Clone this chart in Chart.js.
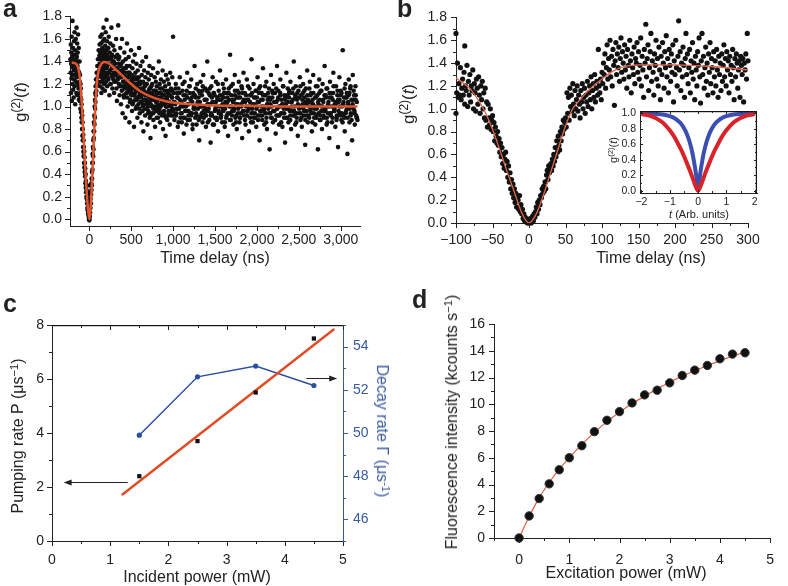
<!DOCTYPE html>
<html>
<head>
<meta charset="utf-8">
<script src="https://cdn.jsdelivr.net/npm/chart.js@4.4.1/dist/chart.umd.min.js"></script>
<style>
html, body { margin: 0; padding: 0; background: #fff; }
#fig { position: relative; width: 788px; height: 586px; overflow: hidden; font-family: "Liberation Sans", Arial, Helvetica, sans-serif; color: #222; }
canvas { position: absolute; }
.t { position: absolute; white-space: nowrap; transform: translate(-50%, -50%); font-size: 16px; line-height: 1; }
.r { transform: translate(-50%, -50%) rotate(-90deg); }
.rc { transform: translate(-50%, -50%) rotate(90deg); }
.p { position: absolute; font-weight: bold; font-size: 25px; line-height: 1; }
sup { font-size: 70%; vertical-align: 0.45em; line-height: 0; }
</style>
</head>
<body>
<div id="fig">
  <canvas id="ca" width="394" height="280" style="left:0;top:0"></canvas>
  <canvas id="cb" width="394" height="280" style="left:394px;top:0"></canvas>
  <canvas id="ci" width="165" height="125" style="left:600px;top:100px"></canvas>
  <canvas id="cc" width="394" height="306" style="left:0;top:280px"></canvas>
  <canvas id="cd" width="394" height="306" style="left:394px;top:280px"></canvas>

  <div class="p" style="left:3px;top:-4px">a</div>
  <div class="p" style="left:397px;top:-4px">b</div>
  <div class="p" style="left:3px;top:291px">c</div>
  <div class="p" style="left:412px;top:287px">d</div>

  <div class="t" style="left:215px;top:258px">Time delay (ns)</div>
  <div class="t r" style="left:20px;top:102px;font-size:17px">g<sup>(2)</sup>(<i>t</i>)</div>
  <div class="t" style="left:651px;top:258px">Time delay (ns)</div>
  <div class="t r" style="left:408px;top:104px;font-size:17px">g<sup>(2)</sup>(<i>t</i>)</div>
  <div class="t r" style="left:613px;top:150px;font-size:11px">g<sup>(2)</sup>(<i>t</i>)</div>
  <div class="t" style="left:699px;top:214px;font-size:11px"><i>t</i> (Arb. units)</div>

  <div class="t" style="left:197px;top:577px">Incident power (mW)</div>
  <div class="t r" style="left:18px;top:436px">Pumping rate P (μs<sup>−1</sup>)</div>
  <div class="t rc" style="left:382px;top:431px;color:#3a5aa0">Decay rate Γ (μs<sup>-1</sup>)</div>

  <div class="t" style="left:626px;top:573px">Excitation power (mW)</div>
  <div class="t r" style="left:452px;top:422px">Fluorescence intensity (kcounts s<sup>−1</sup>)</div>
</div>

<script>
// ---- panel a : g2 over long delay ----
const aPre = [[-225,1.42],[-222,1.30],[-220,1.55],[-218,1.12],[-216,1.38],[-214,1.48],[-212,1.25],[-210,1.62],[-208,1.05],[-206,1.35],
  [-204,1.44],[-202,1.20],[-200,1.76],[-198,1.40],[-196,1.28],[-194,1.52],[-192,1.15],[-190,1.36],[-188,1.46],[-186,1.08],
  [-184,1.32],[-182,1.58],[-180,1.24],[-178,1.40],[-176,1.66],[-174,1.18],[-172,1.34],[-170,1.50],[-168,1.02],[-166,1.42],
  [-164,1.28],[-162,1.60],[-160,1.22],[-158,1.38],[-156,1.46],[-154,1.12],[-152,1.70],[-150,1.30],[-148,1.44],[-146,1.26],
  [-144,1.56],[-142,1.10],[-140,1.36],[-138,1.48],[-136,1.20],[-134,1.64],[-132,1.32],[-130,1.40],[-128,1.16],[-126,1.52],
  [-124,1.06],[-122,1.28]];
const aFall = [[-120,1.30],[-118,1.18],[-116,1.40],[-114,1.22],[-112,1.05],[-110,1.28],[-108,1.12],[-106,0.98],[-104,1.20],[-102,1.08],
  [-100,1.16],[-98,0.95],[-96,1.06],[-94,0.90],[-92,1.02],[-90,0.86],[-88,0.96],[-86,0.80],[-84,0.92],[-82,0.74],
  [-80,0.86],[-78,0.70],[-76,0.80],[-74,0.64],[-72,0.75],[-70,0.60],[-68,0.70],[-66,0.56],[-64,0.64],[-62,0.50],
  [-60,0.60],[-58,0.46],[-56,0.55],[-54,0.42],[-52,0.50],[-50,0.38],[-48,0.45],[-46,0.32],[-44,0.40],[-42,0.28],
  [-40,0.34],[-38,0.24],[-36,0.30],[-34,0.20],[-32,0.26]];
const aDip = [[-30,0.18],[-28,0.24],[-26,0.14],[-24,0.20],[-22,0.10],[-20,0.30],[-18,0.08],[-16,0.16],[-14,0.05],[-12,0.22],
  [-10,0.04],[-8,0.12],[-6,0.02],[-4,0.06],[-2,0.00],[0,-0.01],[2,0.03],[4,0.10],[6,0.02],[8,0.14],
  [10,0.06],[12,0.24],[14,0.10],[16,0.18],[18,0.30],[20,0.14],[22,0.22],[24,0.32],[26,0.26],[28,0.36]];
const aRise = [[30,0.30],[32,0.42],[34,0.36],[36,0.50],[38,0.44],[40,0.58],[42,0.50],[44,0.64],[46,0.56],[48,0.70],
  [50,0.62],[52,0.78],[54,0.72],[56,0.86],[58,0.78],[60,0.92],[62,0.84],[64,1.00],[66,0.90],[68,1.06],
  [70,0.98],[72,1.12],[74,1.04],[76,1.18],[78,1.10],[80,1.24],[84,1.14],[88,1.30],[92,1.20],[96,1.36],
  [100,1.26],[104,1.42],[108,1.22],[112,1.50],[116,1.32]];
const aPeak = [[120,1.45],[122,1.28],[124,1.55],[126,1.36],[128,1.18],[130,1.48],[132,1.62],[134,1.30],[136,1.42],[138,1.22],
  [140,1.56],[142,1.38],[144,1.12],[146,1.50],[148,1.34],[150,1.64],[152,1.26],[154,1.44],[156,1.52],[158,1.16],
  [160,1.40],[162,1.58],[164,1.32],[166,1.46],[168,1.24],[170,1.70],[172,1.36],[174,1.50],[176,1.20],[178,1.42],
  [180,1.60],[182,1.30],[184,1.48],[186,1.14],[188,1.38],[190,1.54],[192,1.26],[194,1.44],[196,1.66],[198,1.34],
  [200,1.22],[202,1.50],[204,1.40],[206,1.77],[208,1.28],[210,1.46],[212,1.58],[214,1.18],[216,1.36],[218,1.52],
  [220,1.30],[224,1.44],[228,1.24],[232,1.62],[236,1.38],[240,1.10],[244,1.48],[248,1.32],[252,1.56],[256,1.20],
  [260,1.42],[264,1.70],[268,1.28],[272,1.46],[276,1.16],[280,1.36],[284,1.54],[288,1.24],[292,1.40],[296,1.12],
  [300,1.50],[305,1.30],[310,1.44],[315,1.22],[320,1.60],[325,1.34],[330,1.05],[335,1.46],[340,1.26],[345,1.72],[350,1.38]];
const aDecay = [[354,1.20],[358,1.44],[362,1.10],[366,1.32],[370,1.52],[374,1.26],[378,1.02],[382,1.38],[386,1.18],[390,1.60],
  [394,1.28],[398,0.94],[402,1.40],[406,1.22],[410,1.34],[414,1.08],[418,1.48],[422,1.16],[426,1.30],[430,0.90],
  [434,1.42],[438,1.24],[442,1.12],[446,1.36],[450,1.56],[454,1.20],[458,1.00],[462,1.30],[466,1.14],[470,1.44],
  [474,1.26],[478,0.86],[482,1.36],[486,1.18],[490,1.06],[494,1.28],[498,1.50],[502,1.10],[506,1.22],[510,0.96],
  [514,1.34],[518,1.16],[522,1.40],[526,1.04],[530,1.26],[534,0.82],[538,1.20],[542,1.46],[546,1.12],[550,1.30],
  [554,0.98],[558,1.18],[562,1.38],[566,1.08],[570,1.24],[574,0.90],[578,1.32],[582,1.14],[586,1.02],[590,1.26],
  [594,1.52],[598,1.10],[602,0.94],[606,1.20],[610,1.36],[614,1.04],[618,1.16],[622,0.86],[626,1.28],[630,1.12],
  [634,1.40],[638,1.00],[642,1.22],[646,0.78],[650,1.14],[654,1.32],[658,1.06],[662,1.18],[666,0.92],[670,1.26],
  [674,1.10],[678,1.44],[682,0.98],[686,1.20],[690,1.04],[694,0.84],[698,1.30],[702,1.12],[706,0.96],[710,1.24],
  [714,1.08],[718,1.36],[722,0.90],[726,1.16],[730,0.72],[734,1.02],[738,1.28],[742,1.10],[746,0.94],[750,1.20],
  [755,1.06],[760,1.34],[765,0.88],[770,1.14],[775,1.00],[780,1.26],[785,0.82],[790,1.10],[795,1.22],[800,0.96],
  [805,1.18],[810,1.04],[815,1.30],[820,0.90],[825,1.12],[830,1.40],[835,0.98],[840,1.20],[845,0.86],[850,1.08],
  [855,1.24],[860,0.94],[865,1.16],[870,1.02],[875,1.32],[880,0.80],[885,1.10],[890,1.22],[895,0.92],[900,1.06],
  [905,1.18],[910,0.74],[915,1.28],[920,1.00],[925,1.14],[930,0.88],[935,1.24],[940,1.04],[945,0.96],[950,1.20],
  [955,1.10],[960,0.84],[965,1.30],[970,1.02],[975,1.16],[980,0.92],[985,1.08],[990,1.26],[995,0.98],[1000,1.62]];
const aTail = [[1008,1.12],[1016,0.88],[1024,1.02],[1032,1.20],[1040,0.94],[1048,1.08],[1056,0.82],[1064,1.16],[1072,0.98],[1080,1.26],
  [1088,0.90],[1096,1.04],[1104,0.86],[1112,1.14],[1120,1.00],[1128,0.76],[1136,1.22],[1144,0.96],[1152,1.10],[1160,0.84],
  [1168,1.30],[1176,1.02],[1184,0.92],[1192,1.18],[1200,0.88],[1208,1.06],[1216,1.24],[1224,0.94],[1232,0.80],[1240,1.12],
  [1248,1.00],[1256,1.36],[1264,0.90],[1272,1.08],[1280,0.84],[1288,1.20],[1296,0.98],[1304,1.14],[1312,0.70],[1320,1.04],
  [1328,1.22],[1336,0.92],[1344,1.10],[1352,0.86],[1360,1.28],[1368,1.00],[1376,0.94],[1384,1.16],[1392,0.82],[1400,1.06],
  [1408,1.40],[1416,0.96],[1424,1.12],[1432,0.88],[1440,1.02],[1448,0.68],[1456,1.18],[1464,0.92],[1472,1.26],[1480,1.04],
  [1488,0.84],[1496,1.10],[1504,0.98],[1512,1.22],[1520,0.90],[1528,1.08],[1536,0.78],[1544,1.14],[1552,1.00],[1560,1.32],
  [1568,0.94],[1576,1.06],[1584,0.86],[1592,1.20],[1600,0.96],[1608,1.12],[1616,0.82],[1624,1.04],[1632,1.24],[1640,0.92],
  [1648,1.08],[1656,0.74],[1664,1.16],[1672,1.00],[1680,1.46],[1688,0.88],[1696,1.10],[1704,0.96],[1712,1.20],[1720,0.84],
  [1728,1.06],[1736,1.28],[1744,0.90],[1752,1.02],[1760,0.80],[1768,1.14],[1776,0.98],[1784,1.22],[1792,0.86],[1800,1.08],
  [1808,0.94],[1816,1.18],[1824,0.72],[1832,1.04],[1840,1.30],[1848,0.92],[1856,1.12],[1864,0.84],[1872,1.00],[1880,1.24],
  [1888,0.96],[1896,1.06],[1904,0.78],[1912,1.16],[1920,0.90],[1928,1.10],[1936,1.42],[1944,0.98],[1952,0.86],[1960,1.20],
  [1968,1.02],[1976,0.94],[1984,1.14],[1992,0.82],[2000,1.08],[2008,1.26],[2016,0.92],[2024,1.04],[2032,0.70],[2040,1.18],
  [2048,0.96],[2056,1.12],[2064,0.88],[2072,1.34],[2080,1.00],[2088,0.84],[2096,1.10],[2104,0.94],[2112,1.22],[2120,0.80],
  [2128,1.06],[2136,0.98],[2144,1.16],[2152,0.62],[2160,1.02],[2168,1.28],[2176,0.90],[2184,1.08],[2192,0.86],[2200,1.20],
  [2208,0.96],[2216,1.12],[2224,0.76],[2232,1.04],[2240,1.36],[2248,0.92],[2256,1.14],[2264,0.84],[2272,1.00],[2280,1.24],
  [2288,0.94],[2296,1.06],[2304,0.82],[2312,1.18],[2320,0.98],[2328,1.10],[2336,0.68],[2344,1.02],[2352,1.30],[2360,0.90],
  [2368,1.16],[2376,0.86],[2384,1.08],[2392,0.96],[2400,1.22],[2408,0.80],[2416,1.04],[2424,1.12],[2432,0.92],[2440,1.40],
  [2448,1.00],[2456,0.84],[2464,1.18],[2472,0.94],[2480,1.06],[2488,0.74],[2496,1.14],[2504,0.98],[2512,1.26],[2520,0.88],
  [2528,1.10],[2536,0.82],[2544,1.02],[2552,1.20],[2560,0.92],[2568,1.08],[2576,0.66],[2584,1.16],[2592,0.96],[2600,1.32],
  [2608,0.86],[2616,1.04],[2624,0.90],[2632,1.22],[2640,0.98],[2648,1.12],[2656,0.78],[2664,1.06],[2672,1.28],[2680,0.94],
  [2688,1.00],[2696,0.84],[2704,1.18],[2712,0.92],[2720,1.10],[2728,0.62],[2736,1.02],[2744,1.24],[2752,0.88],[2760,1.14],
  [2768,0.96],[2776,0.80],[2784,1.20],[2792,1.04],[2800,0.90],[2808,1.36],[2816,0.98],[2824,1.08],[2832,0.84],[2840,1.16],
  [2848,0.94],[2856,1.00],[2864,0.72],[2872,1.22],[2880,0.92],[2888,1.12],[2896,0.86],[2904,1.06],[2912,1.30],[2920,0.96],
  [2928,1.02],[2936,0.82],[2944,1.18],[2952,0.90],[2960,1.10],[2968,0.64],[2976,1.04],[2984,1.26],[2992,0.94],[3000,1.14],
  [3008,0.88],[3016,1.00],[3024,1.50],[3032,0.92],[3040,1.08],[3048,0.78],[3056,1.20],[3064,0.96],[3072,1.12],[3080,0.58],
  [3088,1.02],[3096,1.24],[3104,0.86],[3112,1.16],[3120,0.94],[3128,1.06],[3136,0.70],[3144,1.28],[3152,0.98],[3160,1.10],
  [3168,0.84],[3176,1.18],[3184,0.92],[3192,1.04],[3200,0.88]];
const aTail2 = [[1006,1.04],[1018,0.92],[1030,1.16],[1042,0.98],[1054,1.08],[1066,0.86],[1078,1.12],[1090,1.00],[1102,0.94],[1114,1.20],[1126,0.90],[1138,1.06],
  [1150,0.96],[1162,1.14],[1174,0.88],[1186,1.02],[1198,1.18],[1210,0.94],[1222,1.08],[1234,0.84],[1246,1.10],[1258,0.98],[1270,1.16],[1282,0.92],
  [1294,1.04],[1306,0.88],[1318,1.12],[1330,1.00],[1342,0.94],[1354,1.18],[1366,0.90],[1378,1.06],[1390,0.98],[1402,1.14],[1414,0.86],[1426,1.02],
  [1438,1.16],[1450,0.92],[1462,1.08],[1474,0.84],[1486,1.12],[1498,0.96],[1510,1.04],[1522,0.88],[1534,1.20],[1546,0.94],[1558,1.06],[1570,0.90],
  [1582,1.10],[1594,0.98],[1606,1.16],[1618,0.86],[1630,1.02],[1642,1.12],[1654,0.94],[1666,1.06],[1678,0.88],[1690,1.18],[1702,0.92],[1714,1.04],
  [1726,0.98],[1738,1.14],[1750,0.86],[1762,1.08],[1774,0.94],[1786,1.12],[1798,0.90],[1810,1.02],[1822,1.16],[1834,0.96],[1846,1.06],[1858,0.88],
  [1870,1.10],[1882,0.92],[1894,1.18],[1906,0.98],[1918,1.04],[1930,0.86],[1942,1.12],[1954,0.94],[1966,1.08],[1978,0.90],[1990,1.14],[2002,1.00],
  [2014,0.88],[2026,1.16],[2038,0.96],[2050,1.06],[2062,0.92],[2074,1.10],[2086,0.98],[2098,1.18],[2110,0.86],[2122,1.02],[2134,1.12],[2146,0.94],
  [2158,1.06],[2170,0.90],[2182,1.14],[2194,0.96],[2206,1.04],[2218,0.88],[2230,1.16],[2242,0.98],[2254,1.08],[2266,0.92],[2278,1.12],[2290,0.86],
  [2302,1.02],[2314,1.18],[2326,0.94],[2338,1.06],[2350,0.90],[2362,1.10],[2374,0.98],[2386,1.14],[2398,0.88],[2410,1.04],[2422,0.96],[2434,1.16],
  [2446,0.92],[2458,1.08],[2470,0.86],[2482,1.12],[2494,1.00],[2506,0.94],[2518,1.18],[2530,0.90],[2542,1.06],[2554,0.98],[2566,1.14],[2578,0.88],
  [2590,1.02],[2602,1.10],[2614,0.92],[2626,1.16],[2638,0.96],[2650,1.04],[2662,0.86],[2674,1.12],[2686,0.98],[2698,1.08],[2710,0.90],[2722,1.18],
  [2734,0.94],[2746,1.06],[2758,0.88],[2770,1.14],[2782,1.00],[2794,0.92],[2806,1.10],[2818,0.96],[2830,1.16],[2842,0.86],[2854,1.04],[2866,1.12],
  [2878,0.94],[2890,1.08],[2902,0.90],[2914,1.18],[2926,0.98],[2938,1.02],[2950,0.88],[2962,1.14],[2974,0.96],[2986,1.06],[2998,0.92],[3010,1.12],
  [3022,0.86],[3034,1.04],[3046,1.16],[3058,0.94],[3070,1.08],[3082,0.90],[3094,1.10],[3106,0.98],[3118,1.18],[3130,0.88],[3142,1.02],[3154,1.14],
  [3166,0.94],[3178,1.06],[3190,0.90]];
const aCore = [[404,1.30],[419,1.18],[434,1.26],[449,1.12],[464,1.22],[479,1.30],[494,1.14],[509,1.24],[524,1.10],[539,1.18],
  [554,1.26],[569,1.06],[584,1.16],[599,1.22],[614,1.08],[629,1.14],[644,1.02],[659,1.20],[674,1.06],[689,1.12],
  [704,1.00],[719,1.16],[734,1.06],[749,1.12],[764,0.98],[779,1.08],[794,1.14],[809,1.00],[824,1.06],[839,0.96],
  [854,1.12],[869,1.04],[884,0.94],[899,1.10],[914,1.00],[929,1.06],[944,0.92],[959,1.14],[974,1.00],[989,1.08],
  [1004,0.96],[1019,1.04],[1034,0.92],[1049,1.12],[1064,0.98],[1079,1.06],[1094,0.94],[1109,1.02],[1124,1.10],[1139,0.90],
  [1154,1.00],[1169,1.08],[1184,0.96],[1199,1.12],[1214,0.92],[1229,1.04],[1244,0.98],[1259,1.10],[1274,0.94],[1289,1.02],
  [1304,1.08],[1319,0.90],[1334,1.00],[1349,1.14],[1364,0.96],[1379,1.06],[1394,0.92],[1409,1.02],[1424,0.98],[1439,1.10],
  [1454,0.94],[1469,1.04],[1484,1.12],[1499,0.90],[1514,1.00],[1529,1.06],[1544,0.96],[1559,1.10],[1574,0.92],[1589,1.02],
  [1604,1.08],[1619,0.98],[1634,0.90],[1649,1.04],[1664,1.12],[1679,0.94],[1694,1.00],[1709,1.06],[1724,0.96],[1739,1.10],
  [1754,0.92],[1769,1.02],[1784,1.08],[1799,0.90],[1814,1.00],[1829,1.12],[1844,0.96],[1859,1.04],[1874,0.92],[1889,1.06],
  [1904,1.00],[1919,1.10],[1934,0.94],[1949,1.02],[1964,0.90],[1979,1.08],[1994,0.98],[2009,1.04],[2024,1.12],[2039,0.92],
  [2054,1.00],[2069,1.06],[2084,0.96],[2099,1.10],[2114,0.90],[2129,1.02],[2144,1.08],[2159,0.94],[2174,1.00],[2189,1.12],
  [2204,0.96],[2219,1.04],[2234,0.92],[2249,1.06],[2264,1.00],[2279,1.10],[2294,0.94],[2309,1.02],[2324,0.90],[2339,1.08],
  [2354,0.98],[2369,1.04],[2384,1.12],[2399,0.92],[2414,1.00],[2429,1.06],[2444,0.96],[2459,1.10],[2474,0.90],[2489,1.02],
  [2504,1.08],[2519,0.94],[2534,1.00],[2549,1.12],[2564,0.96],[2579,1.04],[2594,0.92],[2609,1.06],[2624,1.00],[2639,1.10],
  [2654,0.94],[2669,1.02],[2684,0.90],[2699,1.08],[2714,0.98],[2729,1.04],[2744,1.12],[2759,0.92],[2774,1.00],[2789,1.06],
  [2804,0.96],[2819,1.10],[2834,0.90],[2849,1.02],[2864,1.08],[2879,0.94],[2894,1.00],[2909,1.12],[2924,0.96],[2939,1.04],
  [2954,0.92],[2969,1.06],[2984,1.00],[2999,1.10],[3014,0.94],[3029,1.02],[3044,0.90],[3059,1.08],[3074,0.98],[3089,1.04],
  [3104,1.12],[3119,0.92],[3134,1.00],[3149,1.06],[3164,0.96],[3179,1.10],[3194,0.90]];
const aCoreNear = [[124,1.38],[132,1.30],[140,1.44],[148,1.26],[156,1.36],[164,1.50],[172,1.28],[180,1.40],[188,1.22],[196,1.46],
  [204,1.34],[212,1.42],[220,1.26],[228,1.52],[236,1.30],[244,1.38],[252,1.20],[260,1.44],[268,1.34],[276,1.26],
  [284,1.40],[292,1.30],[300,1.22],[308,1.38],[316,1.28],[324,1.16],[332,1.34],[340,1.24],[348,1.42],[356,1.30],
  [364,1.18],[372,1.36],[380,1.26],[388,1.14],[396,1.32],[404,1.22],[412,1.10],[420,1.28],[428,1.18],[436,1.34],
  [444,1.20],[452,1.08],[460,1.26],[468,1.16],[476,1.30],[484,1.04],[492,1.20],[500,1.12],[508,1.28],[516,1.02],
  [524,1.18],[532,1.10],[540,1.24],[548,1.06],[556,1.14],[564,1.00],[572,1.20],[580,1.08],[588,1.16],[596,0.98],
  [604,1.12],[612,1.22],[620,1.04],[628,1.10],[636,0.96],[644,1.16],[652,1.06],[660,1.12],[668,0.98],[676,1.20],
  [684,1.02],[692,1.10],[700,0.94],[708,1.14],[716,1.04],[724,1.08],[732,0.92],[740,1.18],[748,1.00],[756,1.10],
  [764,0.94],[772,1.06],[780,1.14],[788,0.98],[796,1.04],[804,0.90],[812,1.12],[820,1.02],[828,1.08],[836,0.94],
  [844,1.16],[852,1.00],[860,1.06],[868,0.92],[876,1.10],[884,1.02],[892,0.96],[900,1.14],[908,1.04],[916,0.90],
  [924,1.08],[932,1.00],[940,1.12],[948,0.94],[956,1.04],[964,1.10],[972,0.96],[980,1.02],[988,1.14],[996,0.92]];
const aFitT = [-210,-170,-140,-120,-100,-80,-60,-40,-20,0,20,40,60,80,100,130,180,220,300,400,500,600,700,800,900,1000,1200,1500,2000,2500,3200];
const aFitG = [1.39,1.385,1.36,1.3,1.15,0.9,0.62,0.35,0.13,0.0,0.15,0.45,0.8,1.1,1.27,1.36,1.395,1.39,1.34,1.27,1.2,1.14,1.1,1.07,1.05,1.035,1.02,1.01,1.005,1.0,1.0];
const aXTicks = [0,500,1000,1500,2000,2500,3000];
const aXLabels = ['0','500','1,000','1,500','2,000','2,500','3,000'];
const aXMinor = [250,750,1250,1750,2250,2750];
const gTicks = [0,0.2,0.4,0.6,0.8,1.0,1.2,1.4,1.6,1.8];
const gLabels = ['0.0','0.2','0.4','0.6','0.8','1.0','1.2','1.4','1.6','1.8'];
const gMinor = [0.1,0.3,0.5,0.7,0.9,1.1,1.3,1.5,1.7];

// ---- panel b : zoom around zero delay ----
const bScatter = [[-100,1.66],[-100,0.96],[-99,1.14],[-98,1.40],[-97,1.10],[-96,1.22],[-95,1.12],[-94,1.36],[-93,1.08],[-92,1.18],
  [-91,1.26],[-90,1.12],[-89,1.32],[-88,1.55],[-88,1.04],[-87,1.20],[-86,1.16],[-85,1.38],[-84,1.02],[-83,1.24],
  [-82,1.12],[-81,1.30],[-80,1.06],[-79,1.20],[-78,1.16],[-77,1.34],[-76,1.00],[-75,1.22],[-74,1.14],[-73,0.98],
  [-72,1.26],[-71,1.18],[-70,1.04],[-69,1.28],[-68,1.12],[-67,0.96],[-66,1.20],[-65,1.08],[-64,1.24],[-63,1.00],
  [-62,1.14],[-61,0.92],[-60,1.18],[-59,0.90],[-58,1.06],[-57,0.84],[-56,1.04],[-55,0.92],[-54,0.86],[-53,1.00],
  [-52,0.82],[-51,0.90],[-50,0.94],[-49,0.80],[-48,0.88],[-47,0.72],[-46,0.84],[-45,0.76],[-44,0.70],[-43,0.80],
  [-42,0.68],[-41,0.74],[-40,0.62],[-39,0.70],[-38,0.58],[-37,0.66],[-36,0.52],[-35,0.60],[-34,0.48],[-33,0.56],
  [-32,0.62],[-31,0.46],[-30,0.54],[-29,0.40],[-28,0.50],[-27,0.36],[-26,0.44],[-25,0.30],[-24,0.38],[-23,0.26],
  [-22,0.34],[-21,0.22],[-20,0.30],[-19,0.18],[-18,0.26],[-17,0.14],[-16,0.22],[-15,0.20],[-14,0.12],[-13,0.24],
  [-12,0.10],[-11,0.16],[-10,0.08],[-9,0.12],[-8,0.04],[-7,0.08],[-6,0.02],[-5,0.05],[-4,0.01],[-3,0.03],
  [-2,0.00],[-1,0.02],[0,0.00],[1,0.01],[2,0.04],[3,0.00],[4,0.03],[5,0.06],[6,0.02],[7,0.08],
  [8,0.05],[9,0.10],[10,0.14],[11,0.08],[12,0.18],[13,0.12],[14,0.20],[15,0.16],[16,0.24],[17,0.22],
  [18,0.30],[19,0.26],[20,0.32],[21,0.28],[22,0.36],[23,0.30],[24,0.42],[25,0.46],[26,0.38],[27,0.50],
  [28,0.44],[29,0.48],[30,0.52],[31,0.46],[32,0.56],[33,0.50],[34,0.60],[35,0.54],[36,0.66],[37,0.58],
  [38,0.72],[39,0.62],[40,0.76],[41,0.68],[42,0.64],[43,0.80],[44,0.72],[45,0.84],[46,0.78],[47,0.90],
  [48,0.82],[49,0.88],[50,0.92],[51,0.84],[52,1.14],[53,0.96],[54,1.10],[55,0.90],[56,1.18],[57,1.02],
  [58,1.12],[59,0.98],[60,1.22],[61,1.04],[62,0.94],[63,1.16],[64,1.00],[65,1.08],[66,1.20],[67,0.98],
  [68,1.12],[69,1.04],[70,0.92],[71,1.16],[72,1.06],[73,1.22],[74,1.00],[75,1.10],[76,1.18],[77,0.96],
  [78,1.12],[79,1.06],[80,1.24],[81,1.02],[82,1.14],[83,1.20],[84,1.08],[85,1.28],[86,1.00],[87,1.16],
  [88,1.22],[89,1.10],[90,1.30],[91,1.06],[92,1.18],[93,1.24],[94,1.12],[95,1.52],[96,1.20],[97,1.14],
  [98,1.26],[99,1.08],[100,1.32],[101,1.22],[102,1.40],[103,1.30],[104,1.48],[105,1.18],[106,1.36],[107,1.56],
  [108,1.26],[109,1.44],[110,1.34],[111,1.60],[112,1.28],[113,1.46],[114,1.20],[115,1.52],[116,1.38],[117,1.03],
  [118,1.42],[119,1.58],[120,1.30],[121,1.48],[122,1.36],[123,1.54],[124,1.24],[125,1.44],[126,1.62],[127,1.32],
  [128,1.50],[129,1.40],[130,1.26],[131,1.56],[132,1.34],[133,1.46],[134,1.18],[135,1.52],[136,1.38],[137,1.28],
  [138,1.60],[139,1.42],[140,1.14],[141,1.48],[142,1.36],[143,1.30],[144,1.54],[145,1.22],[146,1.44],[147,1.40],
  [148,1.58],[149,1.32],[150,1.50],[151,1.26],[152,1.38],[153,1.62],[154,1.20],[155,1.46],[156,1.34],[157,1.10],
  [158,1.52],[159,1.40],[160,1.74],[161,1.28],[162,1.44],[163,1.56],[164,1.16],[165,1.36],[166,1.50],[167,1.66],
  [168,1.24],[169,1.42],[170,1.32],[171,1.12],[172,1.48],[173,1.38],[174,1.60],[175,1.26],[176,1.44],[177,1.20],
  [178,1.54],[179,1.34],[180,1.08],[181,1.46],[182,1.30],[183,1.58],[184,1.40],[185,1.18],[186,1.50],[187,1.36],
  [188,1.64],[189,1.28],[190,1.44],[191,1.14],[192,1.52],[193,1.38],[194,1.24],[195,1.48],[196,1.32],[197,1.56],
  [198,1.06],[199,1.42],[200,1.30],[201,1.60],[202,1.36],[203,1.20],[204,1.46],[205,1.77],[206,1.34],[207,1.50],
  [208,1.16],[209,1.40],[210,1.28],[211,1.54],[212,1.38],[213,1.10],[214,1.44],[215,1.66],[216,1.30],[217,1.48],
  [218,1.22],[219,1.36],[220,1.52],[221,1.14],[222,1.42],[223,1.32],[224,1.58],[225,1.26],[226,1.40],[227,1.08],
  [228,1.46],[229,1.34],[230,1.20],[231,1.50],[232,1.38],[233,1.62],[234,1.28],[235,1.05],[236,1.42],[237,1.66],
  [238,1.30],[239,1.46],[240,1.18],[241,1.36],[242,1.54],[243,1.24],[244,1.40],[245,1.12],[246,1.48],[247,1.32],
  [248,1.58],[249,1.22],[250,1.44],[251,1.36],[252,1.14],[253,1.50],[254,1.28],[255,1.42],[256,1.20],[257,1.52],
  [258,1.34],[259,1.10],[260,1.46],[261,1.30],[262,1.40],[263,1.16],[264,1.48],[265,1.24],[266,1.38],[267,1.56],
  [268,1.28],[269,1.44],[270,1.20],[271,1.50],[272,1.34],[273,1.42],[274,1.14],[275,1.46],[276,1.30],[277,1.38],
  [278,1.24],[279,1.52],[280,1.36],[281,1.08],[282,1.44],[283,1.28],[284,1.48],[285,1.40],[286,1.18],[287,1.34],
  [288,1.42],[289,1.10],[290,1.46],[291,1.38],[292,1.30],[293,1.44],[294,1.06],[295,1.40],[296,1.34],[297,1.48],
  [298,1.26],[299,1.66],[300,1.42]];
const bFitT = [-100,-80,-70,-60,-50,-40,-30,-20,-10,0,10,20,30,40,50,60,70,80,90,100,115,130,150,200,250,300];
const bFitG = [1.27,1.17,1.08,0.97,0.82,0.64,0.45,0.27,0.09,0.0,0.08,0.25,0.45,0.65,0.85,1.0,1.08,1.15,1.21,1.26,1.33,1.37,1.385,1.385,1.37,1.34];
const bXTicks = [-100,-50,0,50,100,150,200,250,300];
const bXLabels = ['\u2212100','\u221250','0','50','100','150','200','250','300'];
const bXMinor = [-75,-25,25,75,125,175,225,275];

// ---- inset of b ----
const insetT = [-2,-1.75,-1.5,-1.25,-1,-0.9,-0.8,-0.7,-0.6,-0.5,-0.4,-0.3,-0.2,-0.15,-0.1,-0.05,0,0.05,0.1,0.15,0.2,0.3,0.4,0.5,0.6,0.7,0.8,0.9,1,1.25,1.5,1.75,2];
const insetBlue = [1.0,0.997,0.993,0.984,0.964,0.95,0.93,0.90,0.865,0.81,0.736,0.632,0.487,0.39,0.28,0.15,0,0.15,0.28,0.39,0.487,0.632,0.736,0.81,0.865,0.90,0.93,0.95,0.964,0.984,0.993,0.997,1.0];
const insetRed = [0.99,0.975,0.94,0.88,0.78,0.73,0.67,0.6,0.53,0.45,0.36,0.27,0.17,0.12,0.07,0.025,0,0.025,0.07,0.12,0.17,0.27,0.36,0.45,0.53,0.6,0.67,0.73,0.78,0.88,0.94,0.975,0.99];
const iXTicks = [-2,-1,0,1,2];
const iXLabels = ['\u22122','\u22121','0','1','2'];
const iXMinor = [-1.5,-0.5,0.5,1.5];
const iYTicks = [0,0.2,0.4,0.6,0.8,1.0];
const iYLabels = ['0.0','0.2','0.4','0.6','0.8','1.0'];
const iYMinor = [0.1,0.3,0.5,0.7,0.9];

// ---- panel c ----
const cPower = [1.5,2.5,3.5,4.5];
const cPump = [2.4,3.7,5.5,7.5];
const cDecay = [49.9,52.6,53.1,52.2];
const cFitPower = [1.2,4.85];
const cFitPump = [1.7,7.85];
const cXTicks = [0,1,2,3,4,5];
const cXMinor = [0.5,1.5,2.5,3.5,4.5];
const cYTicks = [0,2,4,6,8];
const cYMinor = [1,3,5,7];
const cY2Ticks = [46,48,50,52,54];
const cY2Minor = [45,47,49,51,53,55];

// ---- panel d ----
const dPower = [0,0.2,0.4,0.6,0.8,1.0,1.25,1.5,1.75,2.0,2.25,2.5,2.75,3.0,3.25,3.5,3.75,4.0,4.25,4.5];
const dIntensity = [0,1.65,2.95,4.05,5.1,6.0,6.9,7.95,8.8,9.45,10.1,10.7,11.05,11.6,12.15,12.55,12.9,13.4,13.75,13.85];
const dFitIntensity = [0,1.6,3.0,4.15,5.15,6.0,7.0,7.9,8.7,9.4,10.05,10.6,11.15,11.65,12.1,12.5,12.9,13.25,13.6,13.9];
const dXTicks = [0,1,2,3,4,5];
const dXMinor = [-0.5,0.5,1.5,2.5,3.5,4.5];
const dYTicks = [0,2,4,6,8,10,12,14,16];
const dYMinor = [1,3,5,7,9,11,13,15];

const INK = '#222';
const BLUE = '#3a5aa0';

Chart.defaults.font.family = '"Liberation Sans", Arial, Helvetica, sans-serif';
Chart.defaults.color = INK;
Chart.defaults.animation = false;
Chart.defaults.plugins.legend.display = false;
Chart.defaults.plugins.tooltip.enabled = false;

function pairs(list) { return list.map(p => ({ x: p[0], y: p[1] })); }
function zip(xs, ys) { return xs.map((x, i) => ({ x: x, y: ys[i] })); }
function nums(ticks) { return ticks.map(String); }

// fixed-size linear axis, ticks/labels from the arrays above
// o.frameAt: tick value whose grid line closes the box (drawn across the plot)
function axis(min, max, ticks, labels, o) {
  return {
    type: 'linear', position: o.position, min: min, max: max,
    afterBuildTicks: s => { s.ticks = ticks.map(v => ({ value: v })); },
    afterFit: s => { if (s.isHorizontal()) s.height = o.size; else s.width = o.size; },
    grid: {
      drawOnChartArea: o.frameAt !== undefined, drawTicks: false, lineWidth: 1,
      color: c => (o.frameAt !== undefined && c.tick && c.tick.value === o.frameAt) ? '#111' : 'rgba(0,0,0,0)'
    },
    border: { color: o.color || INK, width: 1 },
    ticks: { padding: o.pad, color: o.color || INK, font: { size: o.font || 14 },
             autoSkip: false, maxRotation: 0, callback: (v, i) => labels[i] }
  };
}

// tick marks (major + minor, in or out) plus closing edges of boxed panels
const tickMarks = {
  id: 'tickMarks',
  afterDraw(chart, args, opts) {
    const ctx = chart.ctx, ca = chart.chartArea;
    ctx.save();
    ctx.fillStyle = '#111';
    if (opts.boxTop) ctx.fillRect(Math.floor(ca.left), Math.floor(ca.top), Math.ceil(ca.right - ca.left), 1.2);
    if (opts.boxRight) ctx.fillRect(Math.ceil(ca.right) - 1.2, Math.floor(ca.top), 1.2, Math.ceil(ca.bottom - ca.top));
    ctx.lineWidth = 1;
    for (const t of (opts.list || [])) {
      const s = chart.scales[t.scale];
      ctx.strokeStyle = t.color || INK;
      const mark = (v, len) => {
        const p = Math.round(s.getPixelForValue(v)) + 0.5;
        const d = t.dir * len;
        ctx.beginPath();
        if (t.edge === 'bottom') { ctx.moveTo(p, ca.bottom); ctx.lineTo(p, ca.bottom + d); }
        if (t.edge === 'top') { ctx.moveTo(p, ca.top); ctx.lineTo(p, ca.top - d); }
        if (t.edge === 'left') { ctx.moveTo(ca.left, p); ctx.lineTo(ca.left - d, p); }
        if (t.edge === 'right') { ctx.moveTo(ca.right, p); ctx.lineTo(ca.right + d, p); }
        ctx.stroke();
      };
      t.major.forEach(v => mark(v, t.len || 5));
      (t.minor || []).forEach(v => mark(v, t.minorLen || 3));
    }
    ctx.restore();
  }
};

const boxFill = {
  id: 'boxFill',
  beforeDraw(chart) {
    const ca = chart.chartArea;
    chart.ctx.save();
    chart.ctx.fillStyle = '#fff';
    chart.ctx.fillRect(ca.left, ca.top, ca.right - ca.left, ca.bottom - ca.top);
    chart.ctx.restore();
  }
};

const arrows = {
  id: 'arrows',
  afterDatasetsDraw(chart, args, opts) {
    const ctx = chart.ctx, sx = chart.scales.x, sy = chart.scales.y;
    ctx.save();
    ctx.strokeStyle = INK; ctx.fillStyle = INK; ctx.lineWidth = 1;
    for (const a of opts.list) {
      const x1 = sx.getPixelForValue(a.from), x2 = sx.getPixelForValue(a.to);
      const y = Math.round(sy.getPixelForValue(a.y)) + 0.5;
      const dir = Math.sign(x2 - x1);
      ctx.beginPath(); ctx.moveTo(x1, y); ctx.lineTo(x2 - dir * 6, y); ctx.stroke();
      ctx.beginPath(); ctx.moveTo(x2, y); ctx.lineTo(x2 - dir * 8, y - 3); ctx.lineTo(x2 - dir * 8, y + 3); ctx.closePath(); ctx.fill();
    }
    ctx.restore();
  }
};

function base(padding, scales, datasets, plugOpts, plugins) {
  return {
    type: 'scatter',
    data: { datasets: datasets },
    options: {
      responsive: false, devicePixelRatio: 1, events: [],
      layout: { padding: padding },
      scales: scales,
      plugins: Object.assign({ legend: { display: false } }, plugOpts)
    },
    plugins: plugins
  };
}

// panel a
new Chart(document.getElementById('ca'), base(
  { top: 11, right: 34, left: 0, bottom: 0 },
  {
    x: axis(-230, 3230, aXTicks, aXLabels, { position: 'bottom', size: 54, pad: 6 }),
    y: axis(-0.06, 1.8, gTicks, gLabels, { position: 'left', size: 70, pad: 8 })
  },
  [
    { data: zip(aFitT, aFitG), showLine: true, borderColor: '#e2542c', borderWidth: 2.5, pointRadius: 0, cubicInterpolationMode: 'monotone' },
    { data: pairs([].concat(aPre, aFall, aDip, aRise, aPeak, aDecay, aTail, aTail2, aCore, aCoreNear)), pointRadius: 2.3, pointBorderWidth: 0, pointBackgroundColor: '#111', clip: false }
  ],
  { tickMarks: { list: [
    { scale: 'x', edge: 'bottom', dir: 1, major: aXTicks, minor: aXMinor },
    { scale: 'y', edge: 'left', dir: 1, major: gTicks, minor: gMinor }
  ] } },
  [tickMarks]
));

// panel b
new Chart(document.getElementById('cb'), base(
  { top: 8, right: 40, left: 0, bottom: 0 },
  {
    x: axis(-100, 300, bXTicks, bXLabels, { position: 'bottom', size: 57, pad: 9 }),
    y: axis(0, 1.8, gTicks, gLabels, { position: 'left', size: 62, pad: 9 })
  },
  [
    { data: zip(bFitT, bFitG), showLine: true, borderColor: '#e2674a', borderWidth: 1.3, pointRadius: 0, cubicInterpolationMode: 'monotone' },
    { data: pairs(bScatter), pointRadius: 2.6, pointBorderWidth: 0, pointBackgroundColor: '#111', clip: false }
  ],
  { tickMarks: { list: [
    { scale: 'x', edge: 'bottom', dir: 1, major: bXTicks, minor: bXMinor },
    { scale: 'y', edge: 'left', dir: 1, major: gTicks, minor: gMinor }
  ] } },
  [tickMarks]
));

// inset
new Chart(document.getElementById('ci'), base(
  { top: 11, right: 8, left: 0, bottom: 0 },
  {
    x: axis(-2.05, 2.08, iXTicks, iXLabels, { position: 'bottom', size: 32, pad: 3, font: 10.5 }),
    y: axis(-0.03, 1.03, iYTicks, iYLabels, { position: 'left', size: 40, pad: 4, font: 10.5 })
  },
  [
    { data: zip(insetT, insetRed), showLine: true, borderColor: '#d8232a', borderWidth: 4, pointRadius: 0, cubicInterpolationMode: 'monotone' },
    { data: zip(insetT, insetBlue), showLine: true, borderColor: '#3b4fb0', borderWidth: 4, pointRadius: 0, cubicInterpolationMode: 'monotone' }
  ],
  { tickMarks: { boxTop: true, boxRight: true, list: [
      { scale: 'x', edge: 'bottom', dir: -1, len: 3, minorLen: 2, major: iXTicks, minor: iXMinor },
      { scale: 'x', edge: 'top', dir: -1, len: 3, minorLen: 2, major: iXTicks, minor: iXMinor },
      { scale: 'y', edge: 'left', dir: -1, len: 3, minorLen: 2, major: iYTicks, minor: iYMinor },
      { scale: 'y', edge: 'right', dir: -1, len: 3, minorLen: 2, major: iYTicks, minor: iYMinor }
    ] } },
  [boxFill, tickMarks]
));

// panel c
new Chart(document.getElementById('cc'), base(
  { top: 45, right: 0, left: 0, bottom: 0 },
  {
    x: axis(0, 5, cXTicks, nums(cXTicks), { position: 'bottom', size: 45, pad: 11 }),
    y: axis(0, 8, cYTicks, nums(cYTicks), { position: 'left', size: 52, pad: 8, frameAt: 8 }),
    y2: axis(45, 55, cY2Ticks, nums(cY2Ticks), { position: 'right', size: 51, pad: 10, color: BLUE })
  },
  [
    { data: zip(cPower, cPump), pointStyle: 'rect', pointRadius: 3, pointBorderWidth: 0, pointBackgroundColor: '#111', clip: false },
    { data: zip(cFitPower, cFitPump), showLine: true, borderColor: '#e04d25', borderWidth: 2.5, pointRadius: 0 },
    { data: zip(cPower, cDecay), yAxisID: 'y2', showLine: true, borderColor: '#2b4fa0', borderWidth: 1.5, pointRadius: 2.6, pointBorderWidth: 0, pointBackgroundColor: '#2b4fa0' }
  ],
  {
    tickMarks: { boxTop: true, list: [
        { scale: 'x', edge: 'bottom', dir: 1, major: cXTicks, minor: cXMinor },
        { scale: 'x', edge: 'top', dir: -1, major: cXTicks, minor: cXMinor },
        { scale: 'y', edge: 'left', dir: 1, major: cYTicks, minor: cYMinor },
        { scale: 'y2', edge: 'right', dir: 1, major: cY2Ticks, minor: cY2Minor, color: BLUE }
      ] },
    arrows: { list: [{ from: 1.3, to: 0.2, y: 2.2 }, { from: 4.37, to: 4.9, y: 6.05 }] }
  },
  [tickMarks, arrows]
));

// panel d
new Chart(document.getElementById('cd'), base(
  { top: 44, right: 3, left: 0, bottom: 0 },
  {
    x: axis(-0.5, 5, dXTicks, nums(dXTicks), { position: 'bottom', size: 48, pad: 14 }),
    y: axis(0, 16, dYTicks, nums(dYTicks), { position: 'left', size: 100, pad: 9 })
  },
  [
    { data: zip(dPower, dIntensity), pointRadius: 4.2, pointBorderWidth: 1, pointBorderColor: '#333', pointBackgroundColor: '#111', clip: false },
    { data: zip(dPower, dFitIntensity), showLine: true, borderColor: '#e06040', borderWidth: 1.2, pointRadius: 0, cubicInterpolationMode: 'monotone' }
  ],
  { tickMarks: { list: [
    { scale: 'x', edge: 'bottom', dir: 1, major: dXTicks, minor: dXMinor },
    { scale: 'y', edge: 'left', dir: 1, major: dYTicks, minor: dYMinor }
  ] } },
  [tickMarks]
));
</script>
</body>
</html>
